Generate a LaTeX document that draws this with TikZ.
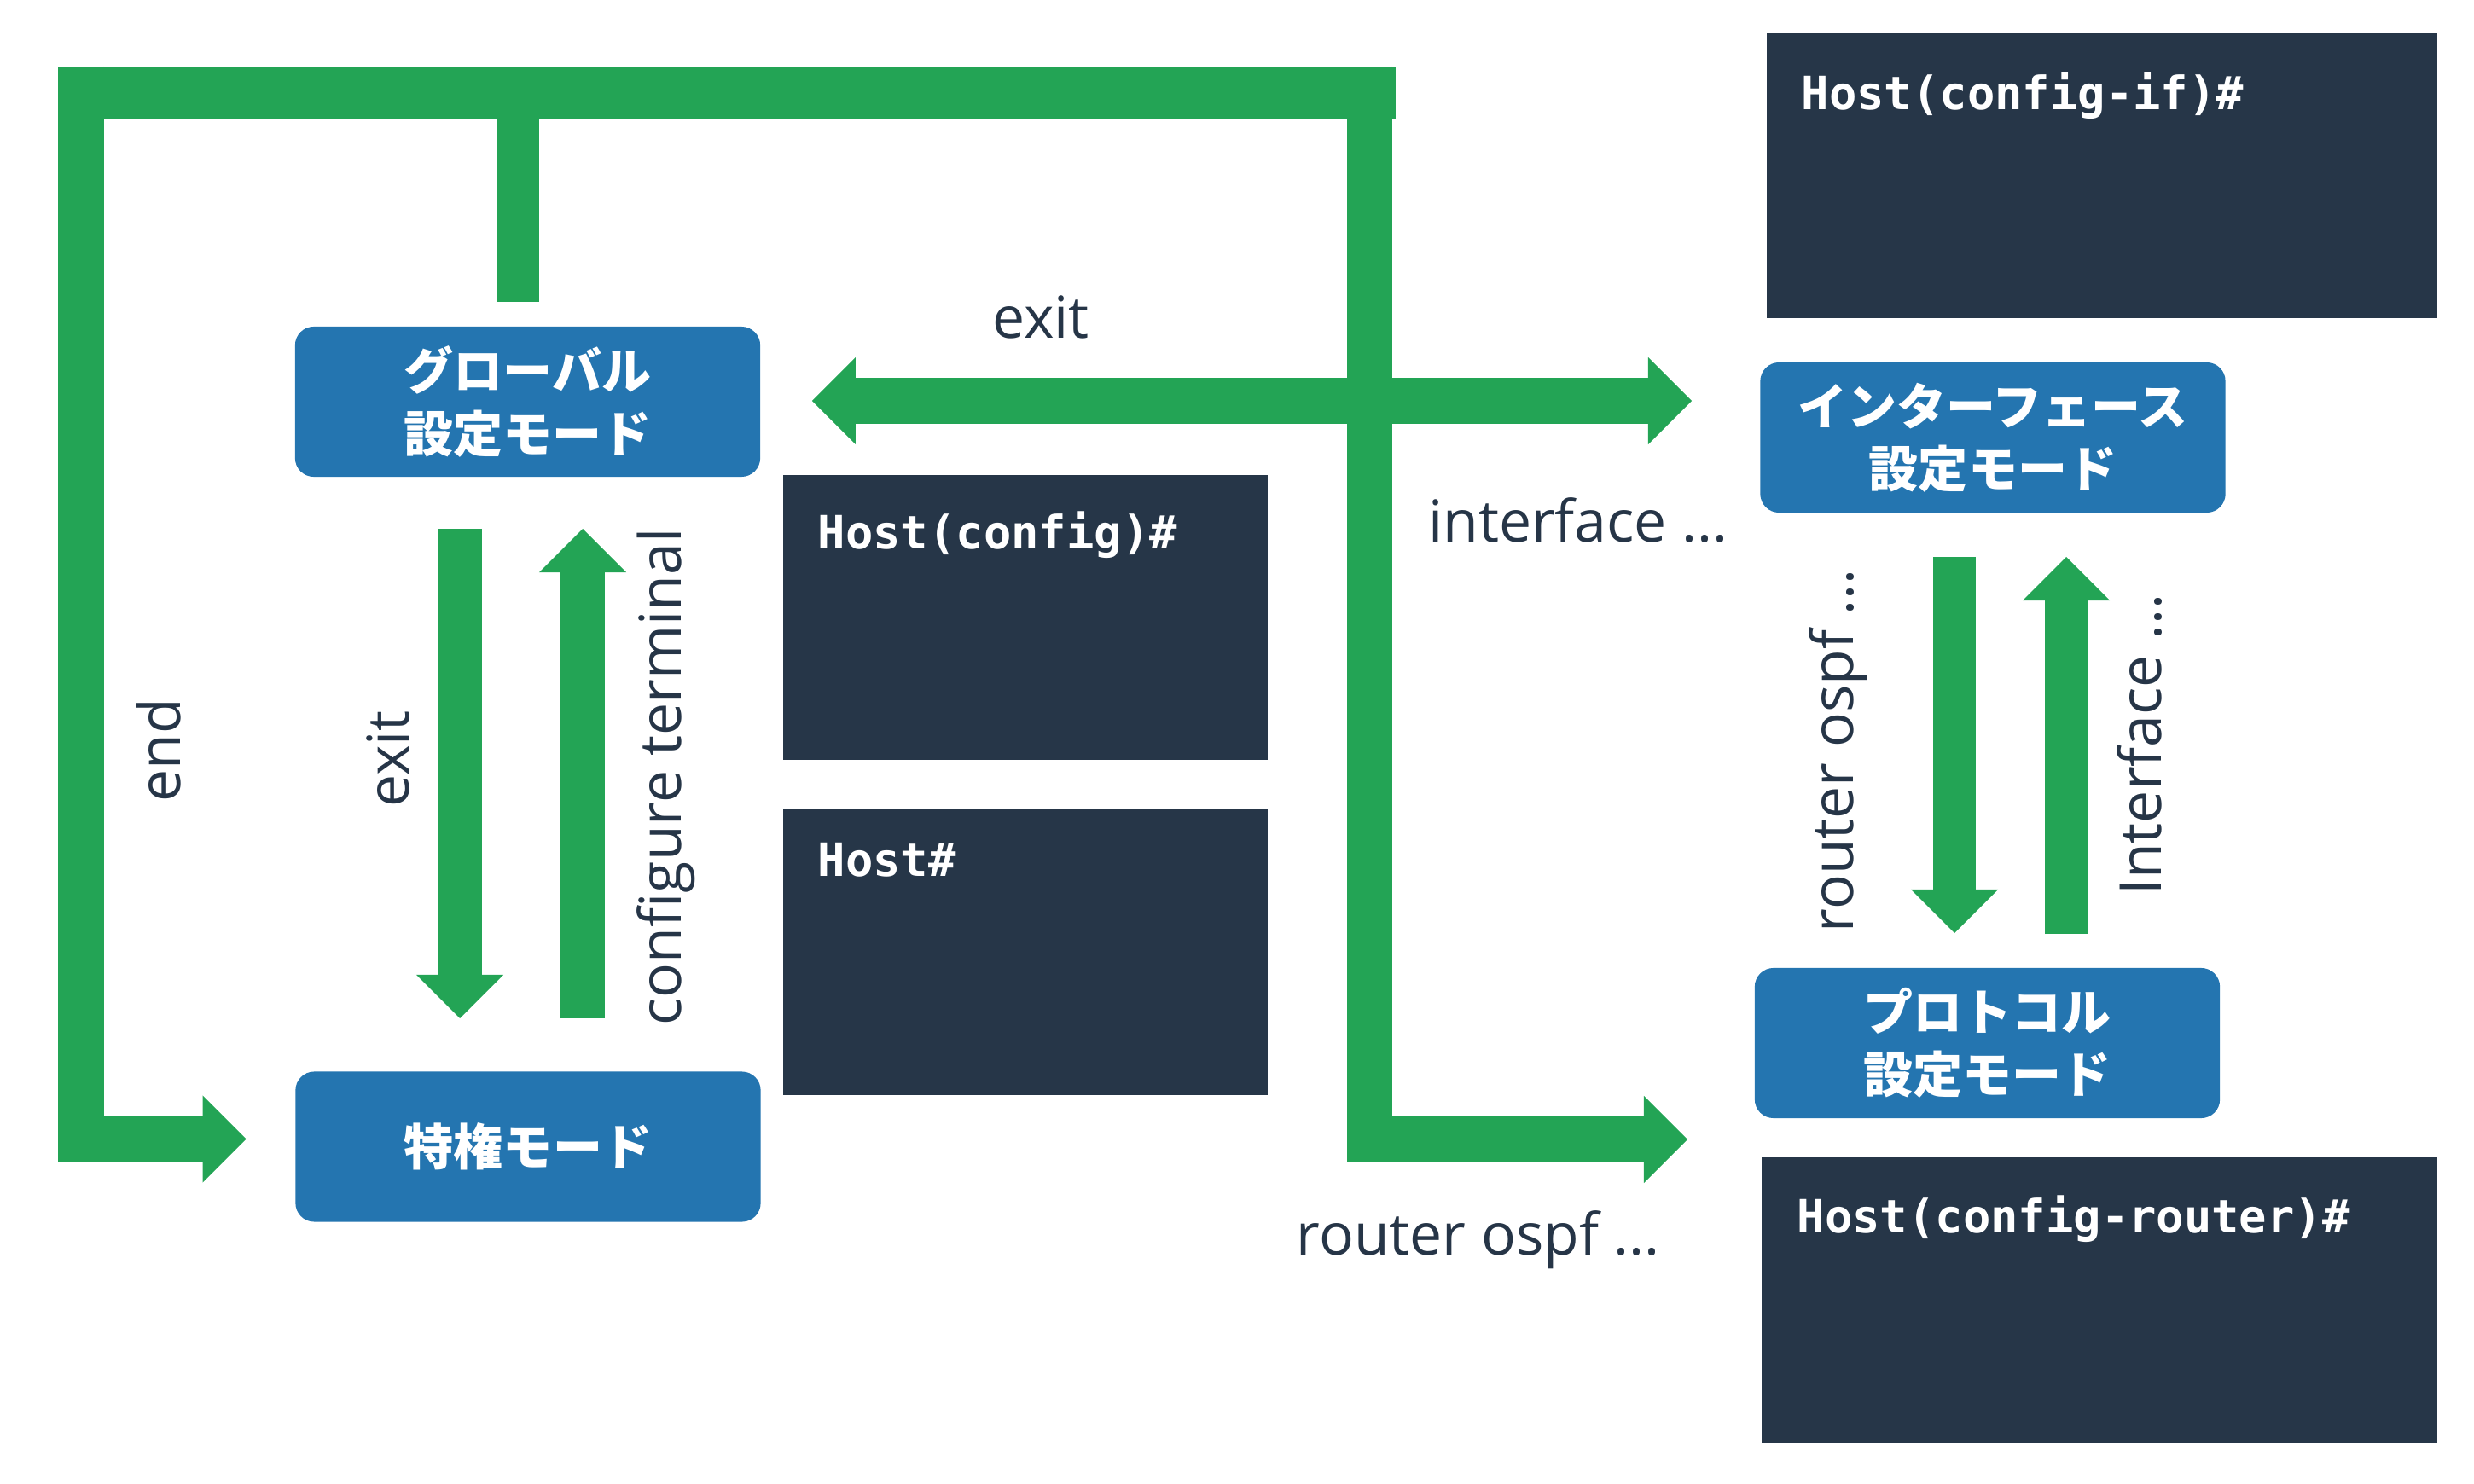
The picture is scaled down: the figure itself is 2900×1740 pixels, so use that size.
\documentclass[tikz,border=0pt]{standalone}
\usepackage{fontspec}
\setmainfont{Open Sans}
\newfontfamily\cjk{Noto Sans CJK JP}
\newfontfamily\hostfont{DejaVu Sans Mono}
\usetikzlibrary{arrows.meta,calc}
\definecolor{gr}{HTML}{23A455}
\definecolor{bl}{HTML}{2475B0}
\definecolor{dk}{HTML}{263648}
\definecolor{tx}{HTML}{263547}
\tikzset{
  gtip/.tip={Triangle[length=0.51cm,width=1.02cm,line width=0pt]},
  gline/.style={draw=gr, line width=0.53cm, line join=miter},
  garrow/.style={gline, -gtip},
  gdarrow/.style={gline, gtip-gtip},
  modebox/.style={fill=bl, rounded corners=0.22cm, minimum width=5.45cm, minimum height=1.76cm, inner sep=0pt, align=center, text=white, font=\cjk\bfseries\fontsize{16.5pt}{20.8pt}\selectfont},
  termbox/.style={fill=dk, inner sep=0pt, anchor=north west, minimum height=3.34cm},
  termtext/.style={text=white, font=\hostfont\bfseries\fontsize{15.3pt}{18pt}\selectfont, anchor=base west, inner sep=0pt},
  lbl/.style={text=tx, font=\fontsize{19.3pt}{23pt}\selectfont, inner sep=0pt, anchor=base},
  vlbl/.style={lbl, rotate=90},
}
\begin{document}
\begin{tikzpicture}[x=0.01cm, y=-0.01cm]
\useasboundingbox (0,0) rectangle (2900,1740);

% mode boxes
\node[modebox] (glob)  at (618.5,471)  {グローバル\\設定モード};
\node[modebox] (priv)  at (619,1344.5) {特権モード};
\node[modebox] (intf)  at (2336,513)   {インターフェース\\設定モード};
\node[modebox] (proto) at (2329.5,1223) {プロトコル\\設定モード};

% terminal boxes
\node[termbox, minimum width=5.68cm] (tconf) at (917,556) {};
\node[termbox, minimum width=5.68cm, minimum height=3.35cm] (tpriv) at (917,948) {};
\node[termbox, minimum width=7.86cm] (tif) at (2070,38) {};
\node[termbox, minimum width=7.92cm, minimum height=3.35cm] (trt) at (2064,1356) {};

\node[termtext] (tconfT) at (958,643) {Host(config)\#};
\node[termtext] (tprivT) at (958,1027) {Host\#};
\node[termtext] (tifT) at (2111,129) {Host(config-if)\#};
\node[termtext] (trtT) at (2106,1445) {Host(config-router)\#};

% coordinates of connector ends
\coordinate (barL) at (68,109);
\coordinate (barR) at (1636,109);
\coordinate (endTop) at (95,78);
\coordinate (endTip) at ($(priv.west)+(-57,-9)$);
\coordinate (stubB) at ($(glob.north)+(-11.5,-28)$);
\coordinate (stubT) at (607,109);
\coordinate (rTop) at (1605.5,78);
\coordinate (ospfTip) at (1978,1336);
\coordinate (exitTip) at ($(glob.east)+(60,-1)$);
\coordinate (ifTip) at (1983,470);
\coordinate (exA) at (539,620);
\coordinate (exB) at (539,1194);
\coordinate (ctA) at (683,1194);
\coordinate (ctB) at (683,620);
\coordinate (roA) at (2291,653);
\coordinate (roB) at (2291,1094);
\coordinate (ifA) at (2422,1095);
\coordinate (ifB) at (2422,653);

% green connectors
\draw[gline, line width=0.62cm] (barL) -- (barR);
\draw[gline, line width=0.50cm] (stubB) -- (stubT);
\draw[garrow, line width=0.54cm] (endTop) |- (endTip);
\draw[garrow, line width=0.53cm] (rTop) |- (ospfTip);
\draw[gdarrow, line width=0.53cm] (exitTip) -- (ifTip);
\draw[garrow, line width=0.51cm] (exA) -- (exB);
\draw[garrow, line width=0.51cm] (ctA) -- (ctB);
\draw[garrow, line width=0.50cm] (roA) -- (roB);
\draw[garrow, line width=0.51cm] (ifA) -- (ifB);

% labels
\node[lbl] (lExitTop) at (1220,397) {exit};
\node[lbl] (lIntf) at (1850,636) {interface ...};
\node[lbl] (lOspf) at (1733,1471) {router ospf ...};
\node[vlbl] (lEnd) at (211,880) {end};
\node[vlbl] (lExit) at (479,890) {exit};
\node[vlbl] (lConf) at (798,911) {configure terminal};
\node[vlbl] (lOspfR) at (2172,880) {router ospf ...};
\node[vlbl] (lIntfR) at (2533,873) {Interface ...};
\end{tikzpicture}
\end{document}
